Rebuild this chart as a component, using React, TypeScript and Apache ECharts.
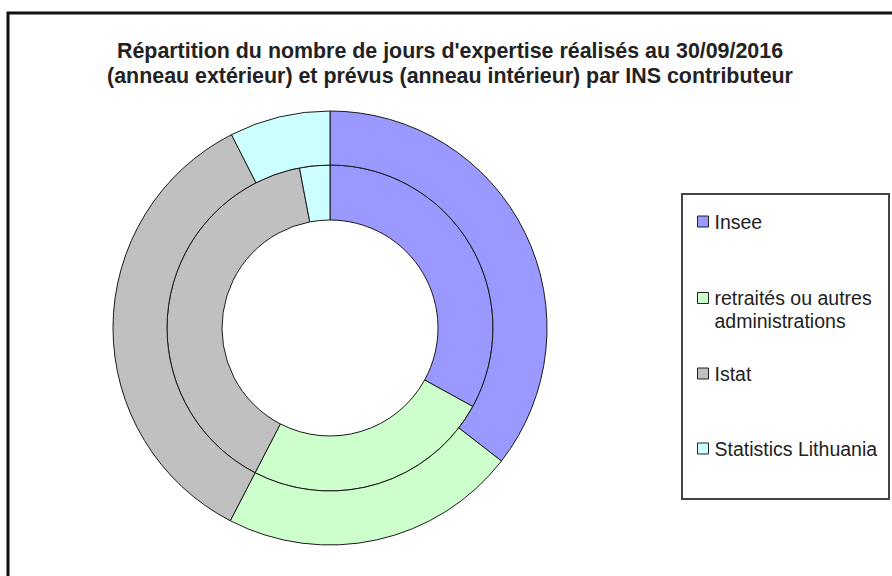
import React, { useEffect, useRef } from "react";
import * as echarts from "echarts";

const categories = [
  "Insee",
  "retraités ou autres administrations",
  "Istat",
  "Statistics Lithuania",
];
// Anneau extérieur : jours réalisés (part en %)
const outerValues = [35.5, 22.1, 34.9, 7.5];
// Anneau intérieur : jours prévus (part en %)
const innerValues = [33.0, 24.6, 39.4, 3.0];
const colors = ["#9999FF", "#CCFFCC", "#C0C0C0", "#CCFFFF"];
const titleLines = [
  "Répartition du nombre de jours d'expertise réalisés au 30/09/2016",
  "(anneau extérieur) et prévus (anneau intérieur) par INS contributeur",
];

const FONT = "'Liberation Sans', Arial, sans-serif";

export default function App() {
  const ref = useRef<HTMLDivElement>(null);

  useEffect(() => {
    if (!ref.current) return;
    const chart = echarts.init(ref.current, undefined, { renderer: "svg" });

    const mkData = (vals: number[]) =>
      categories.map((n, i) => ({
        name: n,
        value: vals[i],
        itemStyle: { color: colors[i] },
      }));

    const pieBase = {
      type: "pie",
      center: [330, 328],
      startAngle: 90,
      clockwise: true,
      silent: true,
      label: { show: false },
      labelLine: { show: false },
      emphasis: { disabled: true },
      itemStyle: { borderColor: "#1a1a1a", borderWidth: 1 },
    };

    const legendTops = [210, 263.5, 362, 437];

    const option: any = {
      animation: false,
      backgroundColor: "#ffffff",
      title: {
        text: titleLines.join("\n"),
        left: 450,
        top: 39,
        textAlign: "center",
        padding: 0,
        textStyle: {
          fontFamily: FONT,
          fontWeight: "bold",
          fontSize: 21.4,
          lineHeight: 24.5,
          color: "#222",
        },
      },
      legend: categories.map((n, i) => ({
        data: [n],
        left: 697,
        top: legendTops[i],
        orient: "vertical",
        icon: "rect",
        itemWidth: 11,
        itemHeight: 11,
        padding: 0,
        selectedMode: false,
        itemStyle: { borderColor: "#222", borderWidth: 1 },
        textStyle: {
          fontFamily: FONT,
          fontSize: 19.5,
          color: "#222",
          lineHeight: 23,
          padding: [0, 0, 0, 1],
        },
        formatter: (name: string) =>
          name === categories[1] ? "\nretraités ou autres\nadministrations" : name,
      })),
      graphic: [
        {
          type: "rect",
          silent: true,
          shape: { x: 8, y: 13, width: 1000, height: 1000 },
          style: { fill: "none", stroke: "#111", lineWidth: 3 },
        },
        {
          type: "rect",
          silent: true,
          shape: { x: 682, y: 194, width: 207, height: 305 },
          style: { fill: "none", stroke: "#444", lineWidth: 2 },
        },
      ],
      series: [
        { ...pieBase, name: "prévus", radius: [108, 163], data: mkData(innerValues) },
        { ...pieBase, name: "réalisés", radius: [163, 217], data: mkData(outerValues) },
      ],
    };

    chart.setOption(option);
    return () => chart.dispose();
  }, []);

  return (
    <div
      ref={ref}
      style={{
        position: "fixed",
        left: 0,
        top: 0,
        width: 892,
        height: 576,
        background: "#fff",
      }}
    />
  );
}
